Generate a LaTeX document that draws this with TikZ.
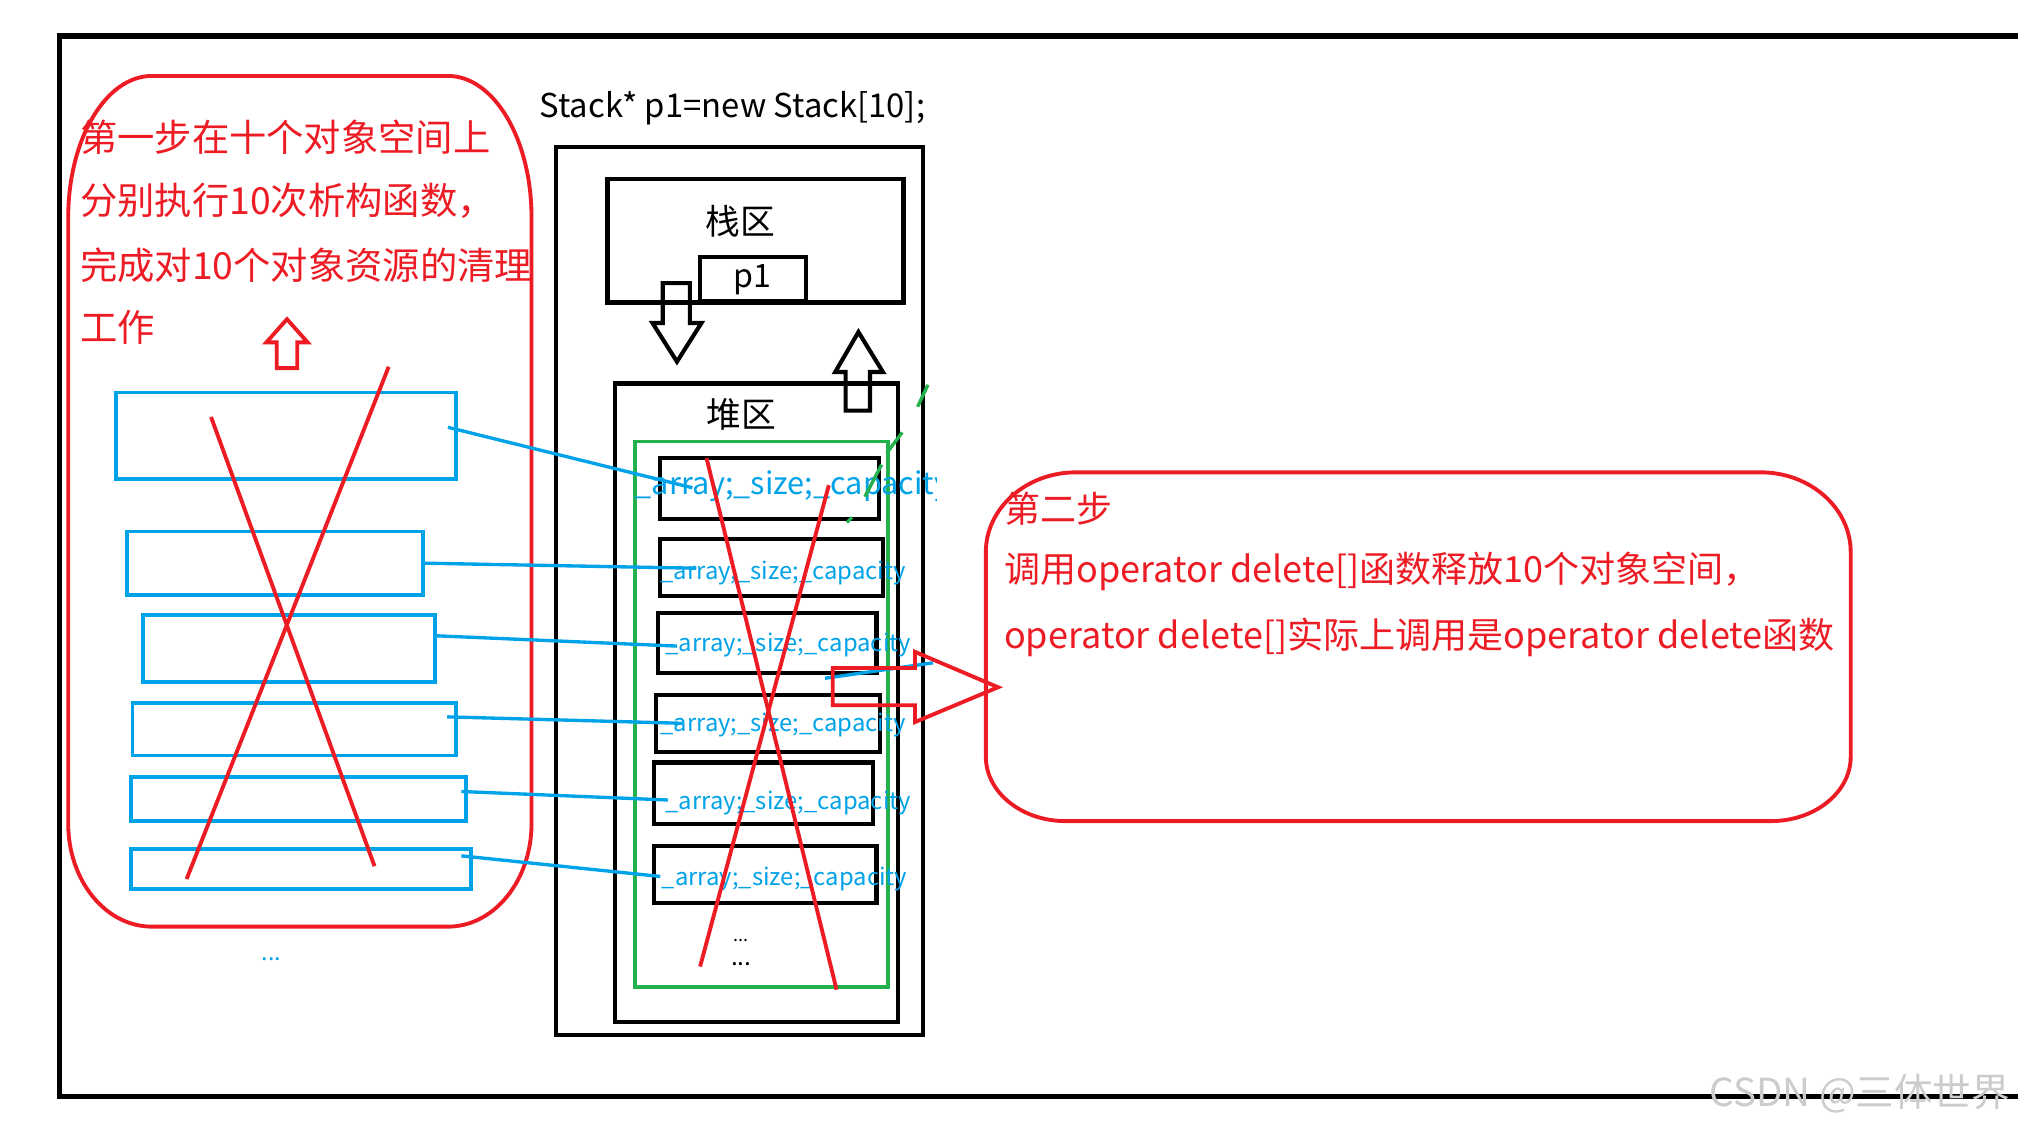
\documentclass[tikz,border=0pt]{standalone}
\usepackage{fontspec}
\setmainfont{Noto Sans CJK SC}
\usetikzlibrary{calc}
\definecolor{pred}{HTML}{ED1C24}
\definecolor{pblue}{HTML}{00A2E8}
\definecolor{pgreen}{HTML}{22B14C}
\newcommand\myfs[1]{\fontsize{#1}{#1}\selectfont}
\begin{document}
\begin{tikzpicture}[x=1pt,y=-1pt,
  blk/.style={draw=black,line width=3.2pt,inner sep=0pt},
  bluebox/.style={draw=pblue,line width=3pt,inner sep=0pt},
  conn/.style={pblue,line width=2.6pt},
  redln/.style={pred,line width=3pt},
  hollow/.style={line width=3.2pt,line join=miter},
  lbl/.style={inner sep=0pt,anchor=west},
]
\useasboundingbox[fill=white] (0,0) rectangle (1568,876);
% outer frame
\draw[line width=4pt] (1575,28) -- (46,28) -- (46,852) -- (1575,852);

% left red rounded box
\draw[redln] (118,59) -- (348,59) .. controls (383.9,59) and (413,108.3) .. (413,169)
  -- (413,640) .. controls (413,684.2) and (383.9,720) .. (348,720)
  -- (118,720) .. controls (82.1,720) and (53,684.2) .. (53,640)
  -- (53,169) .. controls (53,108.3) and (82.1,59) .. (118,59) -- cycle;

\node[lbl,text=pred,font=\myfs{29}] (t1) at (62,107) {第一步在十个对象空间上};
\node[lbl,text=pred,font=\myfs{29}] (t2) at (62,156) {分别执行10次析构函数，};
\node[lbl,text=pred,font=\myfs{29}] (t3) at (62,206) {完成对10个对象资源的清理};
\node[lbl,text=pred,font=\myfs{29}] (t4) at (62,254) {工作};

% small red up arrow
\draw[pred,line width=3pt,line join=miter] (223,248) -- (239,266) -- (231,266) -- (231,286) -- (215,286) -- (215,266) -- (207,266) -- cycle;

% left blue rects
\node[bluebox,minimum width=264pt,minimum height=67pt] (L1) at (222,338.5) {};
\node[bluebox,minimum width=230pt,minimum height=49pt] (L2) at (214,437.5) {};
\node[bluebox,minimum width=227pt,minimum height=52pt] (L3) at (224.5,504) {};
\node[bluebox,minimum width=251pt,minimum height=41pt] (L4) at (228.5,566.5) {};
\node[bluebox,minimum width=260pt,minimum height=34pt] (L5) at (232,621) {};
\node[bluebox,minimum width=264pt,minimum height=31pt] (L6) at (234,675.5) {};
\node[text=pblue,font=\myfs{18}] (ld) at (211,745) {...};

% title
\node[font=\myfs{25.5}] (title) at (569,84) {Stack* p1=new Stack[10];};

% memory boxes
\node[blk,minimum width=285pt,minimum height=690pt] (mem) at (574.5,459) {};
\node[blk,minimum width=230pt,minimum height=96pt] (stack) at (587,187) {};
\node[font=\myfs{27}] (stl) at (575,172) {栈区};
\node[blk,minimum width=82pt,minimum height=34pt,font=\myfs{25}] (p1) at (585,217) {p1};
\node[blk,minimum width=220pt,minimum height=496pt] (heap) at (588,546) {};
\node[font=\myfs{27}] (hpl) at (576,322) {堆区};
\node[draw=pgreen,line width=3pt,inner sep=0pt,minimum width=196.5pt,minimum height=424pt] (grn) at (591.75,555) {};

% hollow black arrows
\draw[hollow] (515,220) -- (536,220) -- (536,251) -- (545,251) -- (526,281) -- (507,251) -- (515,251) -- cycle;
\draw[hollow] (667,258) -- (686,289) -- (676,289) -- (676,319) -- (657,319) -- (657,289) -- (649,289) -- cycle;

% object rects
\node[blk,minimum width=170pt,minimum height=47pt] (O1) at (598,379.5) {};
\node[blk,minimum width=173pt,minimum height=44pt] (O2) at (599.5,441) {};
\node[blk,minimum width=170pt,minimum height=47pt] (O3) at (596,499.5) {};
\node[blk,minimum width=174pt,minimum height=44pt] (O4) at (597,562) {};
\node[blk,minimum width=170pt,minimum height=48pt] (O5) at (593,616.5) {};
\node[blk,minimum width=173pt,minimum height=44pt] (O6) at (594.5,679.5) {};

\begin{scope}
\clip (0,0) rectangle (728,876);
\node[lbl,text=pblue,font=\myfs{23.8}] (ot1) at (493,378) {\_array;\_size;\_capacity};
\end{scope}
\node[lbl,text=pblue,font=\myfs{18.5}] (ot2) at (513,445) {\_array;\_size;\_capacity};
\node[lbl,text=pblue,font=\myfs{18.5}] (ot3) at (517,501) {\_array;\_size;\_capacity};
\node[lbl,text=pblue,font=\myfs{18.5}] (ot4) at (513,563) {\_array;\_size;\_capacity};
\node[lbl,text=pblue,font=\myfs{18.5}] (ot5) at (517,624) {\_array;\_size;\_capacity};
\node[lbl,text=pblue,font=\myfs{18.5}] (ot6) at (514,683) {\_array;\_size;\_capacity};
\node[font=\myfs{14}] (dd1) at (576,731) {...};
\node[font=\myfs{19}] (dd2) at (576,749) {...};

% green dashes
\draw[pgreen,line width=2.6pt] (721,299) -- (713,316);
\draw[pgreen,line width=2.6pt] (701,336) -- (689,352);
\draw[pgreen,line width=2.6pt] (685,361) -- (672,386);
\draw[pgreen,line width=2.6pt] (662,402) -- (658,406);

% connectors
\coordinate (c1s) at (348,332); \coordinate (c1e) at (538,379);
\coordinate (c2s) at (330,437.6); \coordinate (c2e) at (541,441.5);
\coordinate (c3s) at (339,494); \coordinate (c3e) at (526,502);
\coordinate (c4s) at (347.5,557); \coordinate (c4e) at (530,562);
\coordinate (c5s) at (358.5,615); \coordinate (c5e) at (519,621.6);
\coordinate (c6s) at (358.5,665); \coordinate (c6e) at (513,681);
\draw[conn] (c1s) -- (c1e);
\draw[conn] (c2s) -- (c2e);
\draw[conn] (c3s) -- (c3e);
\draw[conn] (c4s) -- (c4e);
\draw[conn] (c5s) -- (c5e);
\draw[conn] (c6s) -- (c6e);
\coordinate (c7s) at (641,527); \coordinate (c7e) at (725,515);
\draw[conn] (c7s) -- (c7e);

% red X lines
\draw[redln] (164,324) -- (291,673);
\draw[redln] (302,285) -- (145,683);
\draw[redln] (549,356) -- (650,769);
\draw[redln] (644,377) -- (544,751);

% red hollow right arrow
\draw[pred,line width=3pt,line join=miter] (647,519) -- (711,519) -- (711,506.5) -- (775.5,534) -- (711,561) -- (711,548) -- (647,548) -- cycle;

% right red rounded box
\draw[redln] (836,367) -- (1368,367) .. controls (1406.6,367) and (1438,394.8) .. (1438,429)
  -- (1438,588) .. controls (1438,615.6) and (1410.2,638) .. (1376,638)
  -- (828,638) .. controls (793.8,638) and (766,615.6) .. (766,588)
  -- (766,429) .. controls (766,394.8) and (797.4,367) .. (836,367) -- cycle;
\node[lbl,text=pred,font=\myfs{28}] (r1) at (780,395) {第二步};
\node[lbl,text=pred,font=\myfs{28}] (r2) at (780,444) {调用operator delete[]函数释放10个对象空间，};
\node[lbl,text=pred,font=\myfs{28}] (r3) at (780,495) {operator delete[]实际上调用是operator delete函数};

% watermark
\node[lbl,text=black!20,font=\myfs{30}] (wm) at (1328,850) {CSDN @三体世界};
\end{tikzpicture}
\end{document}
